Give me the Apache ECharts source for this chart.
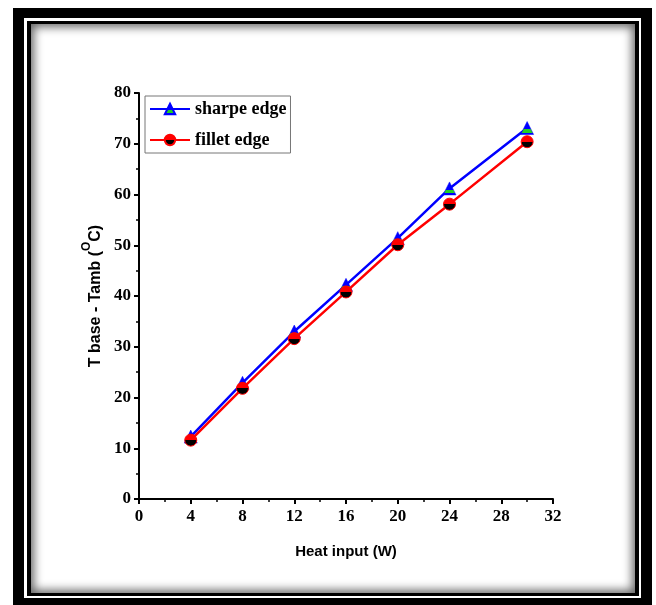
<!DOCTYPE html>
<html>
<head>
<meta charset="utf-8">
<script src="https://cdn.jsdelivr.net/npm/echarts@6/dist/echarts.min.js"></script>
<style>
  html, body { margin: 0; padding: 0; background: #fff; overflow: hidden; }
  .box { position: absolute; }
  #chart { position: absolute; left: 0; top: 0; width: 656px; height: 605px; }
</style>
</head>
<body>
<!-- double picture frame around the plot -->
<div class="box" style="left:13px;top:8px;width:639px;height:600px;background:#000;"></div>
<div class="box" style="left:24px;top:18px;width:617px;height:580px;background:#fff;"></div>
<div class="box" style="left:27px;top:21px;width:612px;height:575px;background:#000;"></div>
<div class="box" style="left:31px;top:24px;width:604px;height:569px;background:#fff;box-shadow:inset 0 0 10px 3px rgba(0,0,0,0.6);"></div>
<div id="chart"></div>
<script>
// Heat input (W)
const heatInput = [4, 8, 12, 16, 20, 24, 30];
// T base - Tamb (°C)
const sharpeEdge = [12.3, 22.9, 33.0, 42.2, 51.4, 61.2, 73.1];
const filletEdge = [11.6, 21.8, 31.6, 40.8, 50.1, 58.1, 70.4];
const seriesNames = ['sharpe edge', 'fillet edge'];

const tickFont = { fontFamily: 'Liberation Serif', fontWeight: 'bold', fontSize: 17, color: '#000' };

function pairs(xs, ys) { return xs.map((x, i) => [x, ys[i]]); }

// blue triangle with a green band near its base
const triFill = new echarts.graphic.LinearGradient(0, 0, 0, 1, [
  { offset: 0, color: '#0000ff' }, { offset: 0.6, color: '#0000ff' },
  { offset: 0.6, color: '#22d022' }, { offset: 0.86, color: '#22d022' },
  { offset: 0.86, color: '#0000ff' }, { offset: 1, color: '#0000ff' }
]);
// circle: red upper half, black lower half
const dotFill = new echarts.graphic.LinearGradient(0, 0, 0, 1, [
  { offset: 0, color: '#ff0000' }, { offset: 0.5, color: '#ff0000' },
  { offset: 0.5, color: '#000000' }, { offset: 1, color: '#000000' }
]);

const chart = echarts.init(document.getElementById('chart'), null, { renderer: 'canvas' });
chart.setOption({
  backgroundColor: 'transparent',
  animation: false,
  grid: { left: 139, right: 103, top: 93, bottom: 106 },
  legend: {
    left: 145, top: 96,
    orient: 'vertical',
    borderColor: '#777', borderWidth: 1,
    padding: [4, 4, 4, 4],
    itemGap: 13,
    itemWidth: 40, itemHeight: 13,
    itemStyle: {},
    textStyle: { fontFamily: 'Liberation Serif', fontWeight: 'bold', fontSize: 18, color: '#000' },
    data: seriesNames
  },
  xAxis: {
    type: 'value', min: 0, max: 32, interval: 4,
    name: 'Heat input (W)', nameLocation: 'middle', nameGap: 45,
    nameTextStyle: { fontFamily: 'Liberation Sans', fontWeight: 'bold', fontSize: 15, color: '#000' },
    axisLine: { show: true, onZero: false, lineStyle: { color: '#000', width: 2 } },
    axisTick: { show: true, inside: false, length: 5, lineStyle: { color: '#000', width: 2 } },
    minorTick: { show: true, splitNumber: 2, length: 3, lineStyle: { color: '#000', width: 1.5 } },
    splitLine: { show: false },
    axisLabel: Object.assign({ margin: 9 }, tickFont)
  },
  yAxis: {
    type: 'value', min: 0, max: 80, interval: 10,
    name: '{a|T base - Tamb (}{s|O}{a|C)}', nameLocation: 'middle', nameGap: 32, nameRotate: 90,
    nameTextStyle: {
      rich: {
        a: { fontFamily: 'Liberation Sans', fontWeight: 'bold', fontSize: 16, color: '#000', lineHeight: 22, verticalAlign: 'bottom' },
        s: { fontFamily: 'Liberation Sans', fontWeight: 'bold', fontSize: 12, color: '#000', lineHeight: 22, verticalAlign: 'top' }
      }
    },
    axisLine: { show: true, onZero: false, lineStyle: { color: '#000', width: 2 } },
    axisTick: { show: true, inside: false, length: 5, lineStyle: { color: '#000', width: 2 } },
    minorTick: { show: true, splitNumber: 2, length: 3, lineStyle: { color: '#000', width: 1.5 } },
    splitLine: { show: false },
    axisLabel: Object.assign({ margin: 8 }, tickFont)
  },
  series: [
    {
      name: seriesNames[0], type: 'line',
      data: pairs(heatInput, sharpeEdge),
      symbol: 'triangle', symbolSize: [13, 13],
      lineStyle: { color: '#0000ff', width: 2.5 },
      itemStyle: { color: triFill, borderColor: '#0000ff', borderWidth: 0.5 },
      z: 2
    },
    {
      name: seriesNames[1], type: 'line',
      data: pairs(heatInput, filletEdge),
      symbol: 'circle', symbolSize: 12,
      lineStyle: { color: '#ff0000', width: 2.5 },
      itemStyle: { color: dotFill, borderColor: '#ff0000', borderWidth: 1 },
      z: 3
    }
  ]
});
</script>
</body>
</html>
